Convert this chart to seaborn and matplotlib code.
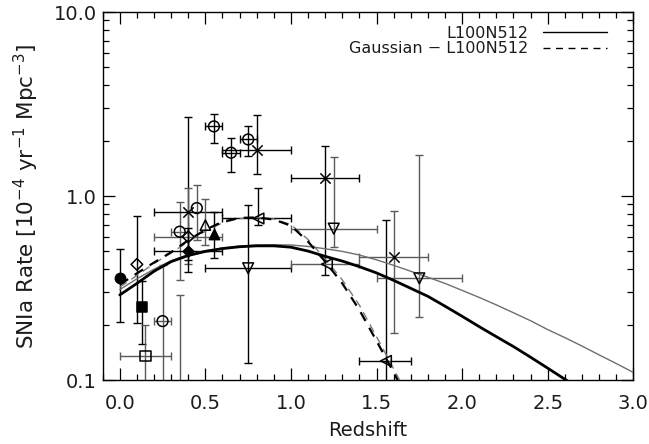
import numpy as np
import pandas as pd
import matplotlib
matplotlib.use("Agg")
import matplotlib.pyplot as plt
from matplotlib.lines import Line2D
from matplotlib.ticker import FixedLocator, NullFormatter
import seaborn as sns

# ---------------------------------------------------------------
# Model curves: SN Ia rate (1e-4 / yr / Mpc^3) against redshift
# ---------------------------------------------------------------
model_z = [0.0, 0.1, 0.2, 0.3, 0.4, 0.5, 0.6, 0.7, 0.8, 0.9,
           1.0, 1.1, 1.2, 1.3, 1.4, 1.5, 1.6, 1.7, 1.8, 1.9,
           2.0, 2.1, 2.2, 2.3, 2.4, 2.5, 2.6, 2.7]
rate_l100n512 = [0.290, 0.335, 0.390, 0.440, 0.475, 0.500, 0.518, 0.530, 0.536, 0.536,
                 0.527, 0.502, 0.470, 0.443, 0.413, 0.382, 0.348, 0.315, 0.285, 0.252,
                 0.222, 0.195, 0.172, 0.152, 0.133, 0.116, 0.101, 0.088]

ref_z = [0.0, 0.1, 0.2, 0.3, 0.4, 0.5, 0.6, 0.7, 0.8, 0.9,
         1.0, 1.1, 1.2, 1.3, 1.4, 1.5, 1.6, 1.7, 1.8, 1.9,
         2.0, 2.1, 2.2, 2.3, 2.4, 2.5, 2.6, 2.7, 2.8, 2.9, 3.0]
rate_ref = [0.310, 0.355, 0.400, 0.445, 0.480, 0.505, 0.522, 0.535, 0.542, 0.543,
            0.542, 0.532, 0.517, 0.500, 0.478, 0.450, 0.420, 0.390, 0.362, 0.335,
            0.307, 0.281, 0.256, 0.232, 0.210, 0.188, 0.170, 0.153, 0.137, 0.123, 0.110]

gauss_z = [0.0, 0.1, 0.2, 0.3, 0.4, 0.5, 0.6, 0.7, 0.8, 0.9,
           1.0, 1.1, 1.2, 1.3, 1.4, 1.5, 1.6, 1.7]
rate_gauss = [0.330, 0.380, 0.435, 0.495, 0.575, 0.655, 0.725, 0.760, 0.765, 0.745,
              0.690, 0.565, 0.440, 0.335, 0.240, 0.163, 0.110, 0.072]
rate_gauss_ref = [0.320, 0.370, 0.430, 0.490, 0.565, 0.645, 0.715, 0.755, 0.765, 0.750,
                  0.700, 0.580, 0.455, 0.350, 0.255, 0.172, 0.115, 0.077]

# ---------------------------------------------------------------
# Observed rates with redshift bins and rate ranges (NaN = none)
# ---------------------------------------------------------------
obs_z    = [0.00, 0.10, 0.13, 0.15, 0.25, 0.35, 0.35, 0.40, 0.40, 0.40,
            0.45, 0.50, 0.55, 0.55, 0.65, 0.75, 0.80, 0.81, 0.75, 1.20,
            1.25, 1.21, 1.555, 1.60, 1.75]
obs_rate = [0.360, 0.425, 0.248, 0.135, 0.209, 0.640, 0.060, 0.820, 0.600, 0.500,
            0.860, 0.695, 0.620, 2.390, 1.720, 2.030, 1.780, 0.755, 0.405, 1.250,
            0.665, 0.426, 0.127, 0.466, 0.357]
obs_z_lo = [np.nan, np.nan, np.nan, 0.00, 0.20, 0.30, np.nan, 0.20, 0.20, 0.20,
            np.nan, np.nan, np.nan, 0.50, 0.60, 0.70, 0.60, 0.60, 0.50, 1.00,
            1.00, 1.00, 1.40, 1.40, 1.50]
obs_z_hi = [np.nan, np.nan, np.nan, 0.30, 0.30, 0.40, np.nan, 0.60, 0.60, 0.60,
            np.nan, np.nan, np.nan, 0.60, 0.70, 0.80, 1.00, 1.00, 1.00, 1.40,
            1.50, 1.40, 1.70, 1.80, 2.00]
obs_r_lo = [0.206, 0.205, 0.157, 0.050, 0.050, 0.350, 0.030, 0.450, 0.426, 0.385,
            0.580, 0.545, 0.460, 1.930, 1.350, 1.650, 1.320, 0.700, 0.124, 0.370,
            0.530, np.nan, 0.050, 0.179, 0.220]
obs_r_hi = [0.516, 0.780, 0.344, 0.200, 0.420, 0.925, 0.290, 2.700, 1.100, 0.670,
            1.150, 0.960, 0.815, 2.800, 2.070, 2.390, 2.750, 1.100, 0.890, 1.860,
            1.630, np.nan, 0.745, 0.830, 1.670]
obs_symbol = ["filled_circle", "open_diamond", "filled_square", "open_square", "open_circle",
              "open_circle", "open_circle", "cross", "open_diamond", "filled_diamond",
              "open_circle", "open_triangle", "filled_triangle", "open_circle", "open_circle",
              "open_circle", "cross", "left_triangle", "down_triangle", "cross",
              "down_triangle", "left_triangle", "left_triangle", "cross", "down_triangle"]
obs_shade = ["black", "black", "black", "gray", "gray", "gray", "gray", "black", "gray", "black",
             "gray", "gray", "black", "black", "black", "black", "black", "black", "black", "black",
             "gray", "gray", "black", "gray", "gray"]

obs = pd.DataFrame({"z": obs_z, "rate": obs_rate, "z_lo": obs_z_lo, "z_hi": obs_z_hi,
                    "r_lo": obs_r_lo, "r_hi": obs_r_hi, "symbol": obs_symbol,
                    "shade": obs_shade})

symbol_style = {
    "filled_circle":   dict(marker="o", fc="black", s=55),
    "open_circle":     dict(marker="o", fc="none", s=60),
    "open_diamond":    dict(marker="D", fc="none", s=35),
    "filled_diamond":  dict(marker="D", fc="black", s=30),
    "filled_square":   dict(marker="s", fc="black", s=60),
    "open_square":     dict(marker="s", fc="none", s=55),
    "cross":           dict(marker="x", fc="black", s=55),
    "open_triangle":   dict(marker="^", fc="none", s=55),
    "filled_triangle": dict(marker="^", fc="black", s=55),
    "down_triangle":   dict(marker="v", fc="none", s=60),
    "left_triangle":   dict(marker="<", fc="none", s=60),
}
shade_color = {"black": "#000000", "gray": "#5a5a5a"}
text_color = "#1c1c1c"

# ---------------------------------------------------------------
sns.set_style("ticks")
plt.rcParams["font.family"] = ["DejaVu Sans"]
plt.rcParams["mathtext.fontset"] = "dejavusans"

fig = plt.figure(figsize=(6.49, 4.44), dpi=100)
ax = fig.add_axes([0.1582, 0.1441, 0.8176, 0.8288])
ax.set_yscale("log")

# error bars
for _, row in obs.iterrows():
    col = shade_color[row["shade"]]
    xerr = None
    if not np.isnan(row["z_lo"]):
        xerr = [[row["z"] - row["z_lo"]], [row["z_hi"] - row["z"]]]
    yerr = None
    if not np.isnan(row["r_lo"]):
        yerr = [[row["rate"] - row["r_lo"]], [row["r_hi"] - row["rate"]]]
    ax.errorbar([row["z"]], [row["rate"]], xerr=xerr, yerr=yerr, fmt="none",
                ecolor=col, elinewidth=1.0, capsize=3.2, capthick=1.0, zorder=2)

# model curves
sns.lineplot(x=ref_z, y=rate_ref, color="#6e6e6e", lw=1.0, ax=ax, zorder=3)
sns.lineplot(x=model_z, y=rate_l100n512, color="black", lw=2.0, ax=ax, zorder=4)
sns.lineplot(x=gauss_z, y=rate_gauss_ref, color="#7a7a7a", lw=1.0, ax=ax, zorder=3,
             linestyle=(0, (6, 4)))
sns.lineplot(x=gauss_z, y=rate_gauss, color="black", lw=1.6, ax=ax, zorder=4,
             linestyle=(0, (4.5, 3.5)))

# observed points
for sym, sub in obs.groupby("symbol"):
    st = symbol_style[sym]
    sns.scatterplot(data=sub, x="z", y="rate", marker=st["marker"], s=st["s"],
                    facecolor=st["fc"], edgecolor="black", linewidth=1.1,
                    color="black", ax=ax, zorder=5, legend=False)

# axes
ax.set_xlim(-0.1, 3.0)
ax.set_ylim(0.1, 10.0)
ax.xaxis.set_major_locator(FixedLocator([0.0, 0.5, 1.0, 1.5, 2.0, 2.5, 3.0]))
ax.xaxis.set_minor_locator(FixedLocator(np.round(np.arange(-0.1, 3.01, 0.1), 2)))
ax.set_xticklabels(["0.0", "0.5", "1.0", "1.5", "2.0", "2.5", "3.0"])
ax.yaxis.set_major_locator(FixedLocator([0.1, 1.0, 10.0]))
ax.yaxis.set_minor_locator(FixedLocator([m * d for d in (0.1, 1.0) for m in range(2, 10)]))
ax.yaxis.set_minor_formatter(NullFormatter())
ax.set_yticklabels(["0.1", "1.0", "10.0"])

ax.tick_params(which="both", direction="in", top=True, right=True, color="black",
               labelcolor=text_color)
ax.tick_params(which="major", length=8.5, width=0.9, labelsize=14)
ax.tick_params(which="minor", length=4.5, width=0.9)
ax.tick_params(axis="x", which="major", pad=10)
ax.tick_params(axis="y", which="major", pad=4)
for sp in ax.spines.values():
    sp.set_linewidth(1.0)
    sp.set_color("black")

ax.set_xlabel("Redshift", fontsize=14, labelpad=6, color=text_color)
ax.set_ylabel(r"SNIa Rate [10$^{-4}$ yr$^{-1}$ Mpc$^{-3}$]", fontsize=15.5,
              labelpad=9, color=text_color)

handles = [Line2D([], [], color="black", lw=1.0),
           Line2D([], [], color="black", lw=1.0, linestyle=(0, (5, 4)))]
leg = ax.legend(handles, ["L100N512", "Gaussian \u2212 L100N512"], loc="upper right",
                bbox_to_anchor=(0.950, 0.962), frameon=False, markerfirst=False,
                handlelength=4.0, handletextpad=0.9, labelspacing=0.02, borderpad=0,
                borderaxespad=0, fontsize=11.5, labelcolor=text_color)

fig.savefig("out.png", dpi=100)
